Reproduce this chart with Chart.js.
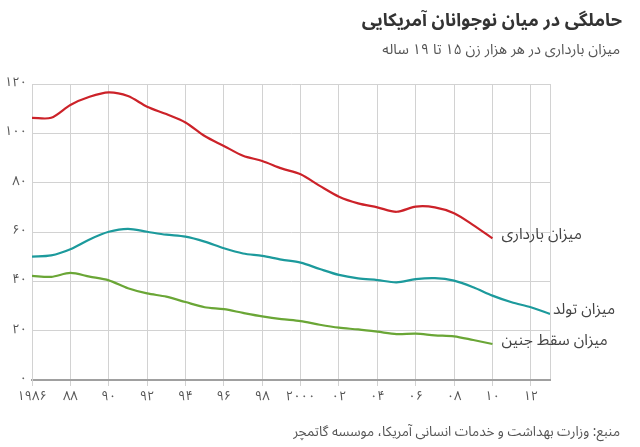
<!DOCTYPE html>
<html lang="fa">
<head>
<meta charset="utf-8">
<script src="https://cdn.jsdelivr.net/npm/chart.js@4.4.1/dist/chart.umd.min.js"></script>
<style>
  html, body { margin: 0; padding: 0; background: #fff; }
  body { width: 640px; height: 447px; position: relative; overflow: hidden;
         font-family: "Noto Sans Arabic", "DejaVu Sans", sans-serif; }
  #wrap { position: absolute; left: 0; top: 0; width: 640px; height: 447px; }
  .txt { position: absolute; direction: rtl; white-space: nowrap; }
  #title { right: 18px; top: 1px; font-size: 18px; font-weight: bold; color: #333; }
  #sub { right: 20px; top: 34px; font-size: 14.5px; color: #555; }
  #src { right: 20px; top: 417px; font-size: 13.5px; color: #555; }
</style>
</head>
<body>
<div id="wrap"><canvas id="c" width="640" height="447"></canvas></div>
<div class="txt" id="title">حاملگی در میان نوجوانان آمریکایی</div>
<div class="txt" id="sub">میزان بارداری در هر هزار زن ۱۵ تا ۱۹ ساله</div>
<div class="txt" id="src">منبع: وزارت بهداشت و خدمات انسانی آمریکا، موسسه گاتمچر</div>
<script>
const years = [1986,1987,1988,1989,1990,1991,1992,1993,1994,1995,1996,1997,1998,1999,2000,2001,2002,2003,2004,2005,2006,2007,2008,2009,2010,2011,2012,2013];
const pregnancy = [106.3,106.3,111.5,114.8,116.6,115.1,110.8,107.8,104.4,98.9,94.9,90.9,88.8,85.8,83.4,78.7,74.3,71.6,70.0,68.2,70.3,70.0,67.6,62.8,57.4];
const births = [50.0,50.5,53.0,57.0,60.1,61.3,60.1,58.9,58.1,56.1,53.4,51.3,50.3,48.8,47.6,45.0,42.6,41.2,40.5,39.6,40.9,41.3,40.3,37.6,34.2,31.5,29.5,26.8];
const abortions = [42.2,41.8,43.4,41.9,40.4,37.2,35.1,33.8,31.6,29.5,28.7,27.2,25.8,24.7,23.9,22.4,21.2,20.5,19.6,18.6,18.8,18.1,17.7,16.2,14.6];
const seriesNames = ['میزان بارداری', 'میزان تولد', 'میزان سقط جنین'];
const xTickValues = [1986,1988,1990,1992,1994,1996,1998,2000,2002,2004,2006,2008,2010,2012,2013];
const xTickLabels = ['۱۹۸۶','۸۸','۹۰','۹۲','۹۴','۹۶','۹۸','۲۰۰۰','۰۲','۰۴','۰۶','۰۸','۱۰','۱۲',''];
const yTickValues = [0,20,40,60,80,100,120];
const yTickLabels = ['۰','۲۰','۴۰','۶۰','۸۰','۱۰۰','۱۲۰'];

const FONT = '"Noto Sans Arabic", "DejaVu Sans", sans-serif';
const toPts = arr => arr.map((v, i) => ({x: years[i], y: v}));

const endLabels = {
  id: 'endLabels',
  afterDatasetsDraw(chart) {
    const ctx = chart.ctx;
    const xs = chart.scales.x, ys = chart.scales.y;
    const offs = [[9, -2], [3, -2], [9, -1]];
    ctx.save();
    ctx.font = '15.5px ' + FONT;
    ctx.fillStyle = '#444';
    ctx.textBaseline = 'middle';
    ctx.direction = 'rtl';
    ctx.textAlign = 'left';
    chart.data.datasets.forEach((ds, i) => {
      const last = ds.data[ds.data.length - 1];
      const px = xs.getPixelForValue(last.x) + offs[i][0];
      const py = ys.getPixelForValue(last.y) + offs[i][1];
      ctx.fillText(seriesNames[i], px, py);
    });
    ctx.restore();
  }
};

new Chart(document.getElementById('c'), {
  type: 'line',
  data: {
    datasets: [
      { data: toPts(pregnancy), borderColor: '#cc2229', borderWidth: 2.2, pointRadius: 0, tension: 0.3, fill: false },
      { data: toPts(births), borderColor: '#1c9a9c', borderWidth: 2.2, pointRadius: 0, tension: 0.3, fill: false },
      { data: toPts(abortions), borderColor: '#6aa636', borderWidth: 2.2, pointRadius: 0, tension: 0.3, fill: false }
    ]
  },
  options: {
    responsive: false,
    animation: false,
    devicePixelRatio: 1,
    layout: { padding: { left: 0, top: 84, right: 90, bottom: 37 } },
    plugins: { legend: { display: false }, tooltip: { enabled: false } },
    scales: {
      x: {
        type: 'linear', min: 1986, max: 2013,
        afterBuildTicks: s => { s.ticks = xTickValues.map(v => ({value: v})); },
        afterFit: s => { s.height = 30; },
        ticks: {
          autoSkip: false, maxRotation: 0, padding: 4,
          color: '#555', font: { family: FONT, size: 13 },
          callback: (v) => { const i = xTickValues.indexOf(v); return i >= 0 ? xTickLabels[i] : ''; }
        },
        grid: {
          color: '#d2d2d2', lineWidth: 1, drawTicks: true, tickLength: 6,
          tickColor: c => (c.tick && c.tick.value === 2013) ? 'rgba(0,0,0,0)' : '#d2d2d2'
        },
        border: { display: true, color: '#a0a0a0', width: 2 }
      },
      y: {
        type: 'linear', min: 0, max: 120,
        afterBuildTicks: s => { s.ticks = yTickValues.map(v => ({value: v})); },
        afterFit: s => { s.width = 32; },
        ticks: {
          padding: 5, color: '#555', font: { family: FONT, size: 13 },
          callback: (v) => { const i = yTickValues.indexOf(v); return i >= 0 ? yTickLabels[i] : ''; }
        },
        grid: {
          color: c => (c.tick && c.tick.value === 0) ? '#a0a0a0' : '#d2d2d2',
          lineWidth: c => (c.tick && c.tick.value === 0) ? 2 : 1,
          drawTicks: false
        },
        border: { display: true, color: '#d2d2d2', width: 1 }
      }
    }
  },
  plugins: [endLabels]
});
</script>
</body>
</html>
